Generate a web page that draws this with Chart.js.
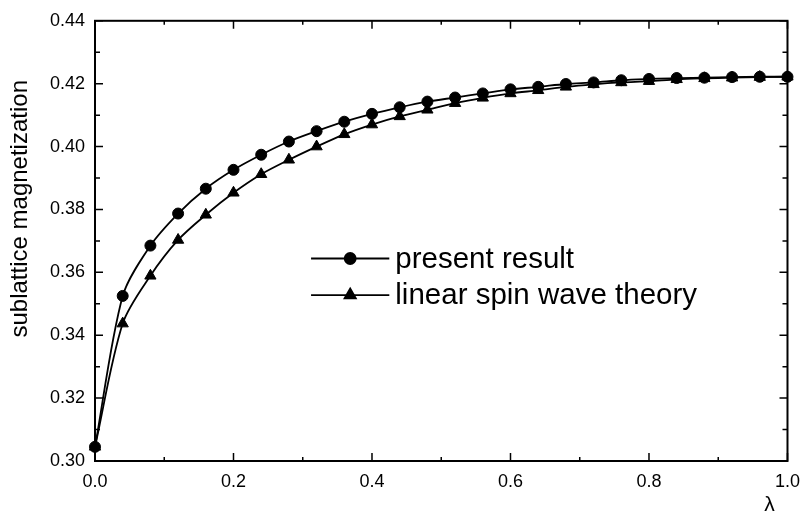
<!DOCTYPE html>
<html>
<head>
<meta charset="utf-8">
<script src="https://cdn.jsdelivr.net/npm/chart.js@4.4.1/dist/chart.umd.min.js"></script>
<style>
  html, body { margin: 0; padding: 0; background: #fff; }
  #wrap { width: 810px; height: 519px; }
</style>
</head>
<body>
<div id="wrap"><canvas id="myChart" width="810" height="519"></canvas></div>
<script>
// lambda values along the x axis
const lambda = [0.00, 0.04, 0.08, 0.12, 0.16, 0.20, 0.24, 0.28, 0.32, 0.36, 0.40, 0.44, 0.48,
                0.52, 0.56, 0.60, 0.64, 0.68, 0.72, 0.76, 0.80, 0.84, 0.88, 0.92, 0.96, 1.00];

// sublattice magnetization
const presentResult = [0.3045, 0.3525, 0.3685, 0.3787, 0.3866, 0.3926, 0.3974, 0.4016, 0.4049,
                       0.4079, 0.4104, 0.4125, 0.4143, 0.4156, 0.4169, 0.4182, 0.4190, 0.4199,
                       0.4204, 0.4211, 0.4215, 0.4218, 0.4219, 0.4221, 0.4222, 0.4222];
const spinWave = [0.3045, 0.3437, 0.3589, 0.3703, 0.3783, 0.3853, 0.3912, 0.3958, 0.4000,
                  0.4039, 0.4070, 0.4096, 0.4117, 0.4138, 0.4155, 0.4169, 0.4179, 0.4190,
                  0.4198, 0.4204, 0.4208, 0.4214, 0.4217, 0.4219, 0.4221, 0.4222];

const seriesNames = ['present result', 'linear spin wave theory'];
const seriesMarkers = ['circle', 'triangle'];
const yTitle = 'sublattice magnetization';
const xTitle = 'λ';

const FONT = '"Liberation Sans", Arial, sans-serif';

function toPoints(ys) {
  return lambda.map((x, i) => ({ x: x, y: ys[i] }));
}

// box frame with inward ticks on all four sides + legend + titles
const framePlugin = {
  id: 'frame',
  beforeDatasetsDraw(chart) {
    const ctx = chart.ctx;
    const a = chart.chartArea;
    const xs = chart.scales.x, ys = chart.scales.y;
    ctx.save();
    ctx.strokeStyle = '#000';
    ctx.lineWidth = 2;
    ctx.strokeRect(a.left, a.top, a.right - a.left, a.bottom - a.top);
    ctx.lineWidth = 1.5;
    const xt = xs.ticks.map(t => t.value);
    xt.forEach((v, i) => {
      const p = xs.getPixelForValue(v);
      ctx.beginPath();
      ctx.moveTo(p, a.bottom); ctx.lineTo(p, a.bottom - 8);
      ctx.moveTo(p, a.top); ctx.lineTo(p, a.top + 8);
      if (i < xt.length - 1) {
        const m = xs.getPixelForValue((v + xt[i + 1]) / 2);
        ctx.moveTo(m, a.bottom); ctx.lineTo(m, a.bottom - 4);
        ctx.moveTo(m, a.top); ctx.lineTo(m, a.top + 4);
      }
      ctx.stroke();
    });
    const yt = ys.ticks.map(t => t.value);
    yt.forEach((v, i) => {
      const p = ys.getPixelForValue(v);
      ctx.beginPath();
      ctx.moveTo(a.left, p); ctx.lineTo(a.left + 8, p);
      ctx.moveTo(a.right, p); ctx.lineTo(a.right - 8, p);
      if (i < yt.length - 1) {
        const m = ys.getPixelForValue((v + yt[i + 1]) / 2);
        ctx.moveTo(a.left, m); ctx.lineTo(a.left + 5, m);
        ctx.moveTo(a.right, m); ctx.lineTo(a.right - 5, m);
      }
      ctx.stroke();
    });
    ctx.restore();
  },
  afterDraw(chart) {
    const ctx = chart.ctx;
    const a = chart.chartArea;
    const w = a.right - a.left, h = a.bottom - a.top;
    ctx.save();
    ctx.fillStyle = '#000';
    ctx.strokeStyle = '#000';

    // y axis title (sits a bit above the centre, as in the original)
    ctx.save();
    ctx.translate(27, a.top + h * 0.427);
    ctx.rotate(-Math.PI / 2);
    ctx.font = '24px ' + FONT;
    ctx.textAlign = 'center';
    ctx.textBaseline = 'alphabetic';
    ctx.fillText(yTitle, 0, 0);
    ctx.restore();

    // x axis title
    ctx.font = '21px ' + FONT;
    ctx.textAlign = 'center';
    ctx.textBaseline = 'middle';
    ctx.fillText(xTitle, a.right - 18, a.bottom + 44);

    // legend inside the plot
    const lx0 = a.left + w * 0.312, lx1 = a.left + w * 0.425;
    const rows = [a.top + h * 0.540, a.top + h * 0.623];
    ctx.font = '29.5px ' + FONT;
    ctx.textAlign = 'left';
    ctx.textBaseline = 'middle';
    rows.forEach((y, i) => {
      ctx.lineWidth = 1.8;
      ctx.beginPath();
      ctx.moveTo(lx0, y); ctx.lineTo(lx1, y);
      ctx.stroke();
      Chart.helpers.drawPoint(ctx, {
        pointStyle: seriesMarkers[i],
        radius: seriesMarkers[i] === 'triangle' ? 6.5 : 5.5,
        rotation: 0,
        borderWidth: 1
      }, (lx0 + lx1) / 2, y);
      ctx.fillText(seriesNames[i], lx1 + 6, y + 1);
    });
    ctx.restore();
  }
};

const ctx = document.getElementById('myChart');

new Chart(ctx, {
  type: 'line',
  data: {
    datasets: [{
      label: seriesNames[0],
      data: toPoints(presentResult),
      borderColor: '#000',
      backgroundColor: '#000',
      borderWidth: 1.8,
      pointStyle: seriesMarkers[0],
      pointRadius: 5.5,
      pointBorderWidth: 1,
      tension: 0.3,
      clip: false
    }, {
      label: seriesNames[1],
      data: toPoints(spinWave),
      borderColor: '#000',
      backgroundColor: '#000',
      borderWidth: 1.8,
      pointStyle: seriesMarkers[1],
      pointRadius: 6.5,
      pointBorderWidth: 1,
      tension: 0.3,
      clip: false
    }]
  },
  options: {
    responsive: false,
    animation: false,
    events: [],
    layout: { padding: { left: 0, top: 13, right: 17, bottom: 0 } },
    plugins: {
      legend: { display: false },
      tooltip: { enabled: false },
      title: { display: false }
    },
    scales: {
      x: {
        type: 'linear',
        position: 'bottom',
        min: 0,
        max: 1,
        grid: { display: false, drawTicks: false },
        border: { display: false },
        ticks: {
          stepSize: 0.2,
          padding: 10,
          color: '#000',
          font: { family: FONT, size: 18 },
          maxRotation: 0,
          callback: v => v.toFixed(1)
        },
        afterFit(scale) { scale.height = 58; }
      },
      y: {
        min: 0.30,
        max: 0.44,
        grid: { display: false, drawTicks: false },
        border: { display: false },
        ticks: {
          stepSize: 0.02,
          padding: 10,
          color: '#000',
          font: { family: FONT, size: 18 },
          callback: v => v.toFixed(2)
        },
        afterFit(scale) { scale.width = 95; }
      }
    }
  },
  plugins: [framePlugin]
});
</script>
</body>
</html>
